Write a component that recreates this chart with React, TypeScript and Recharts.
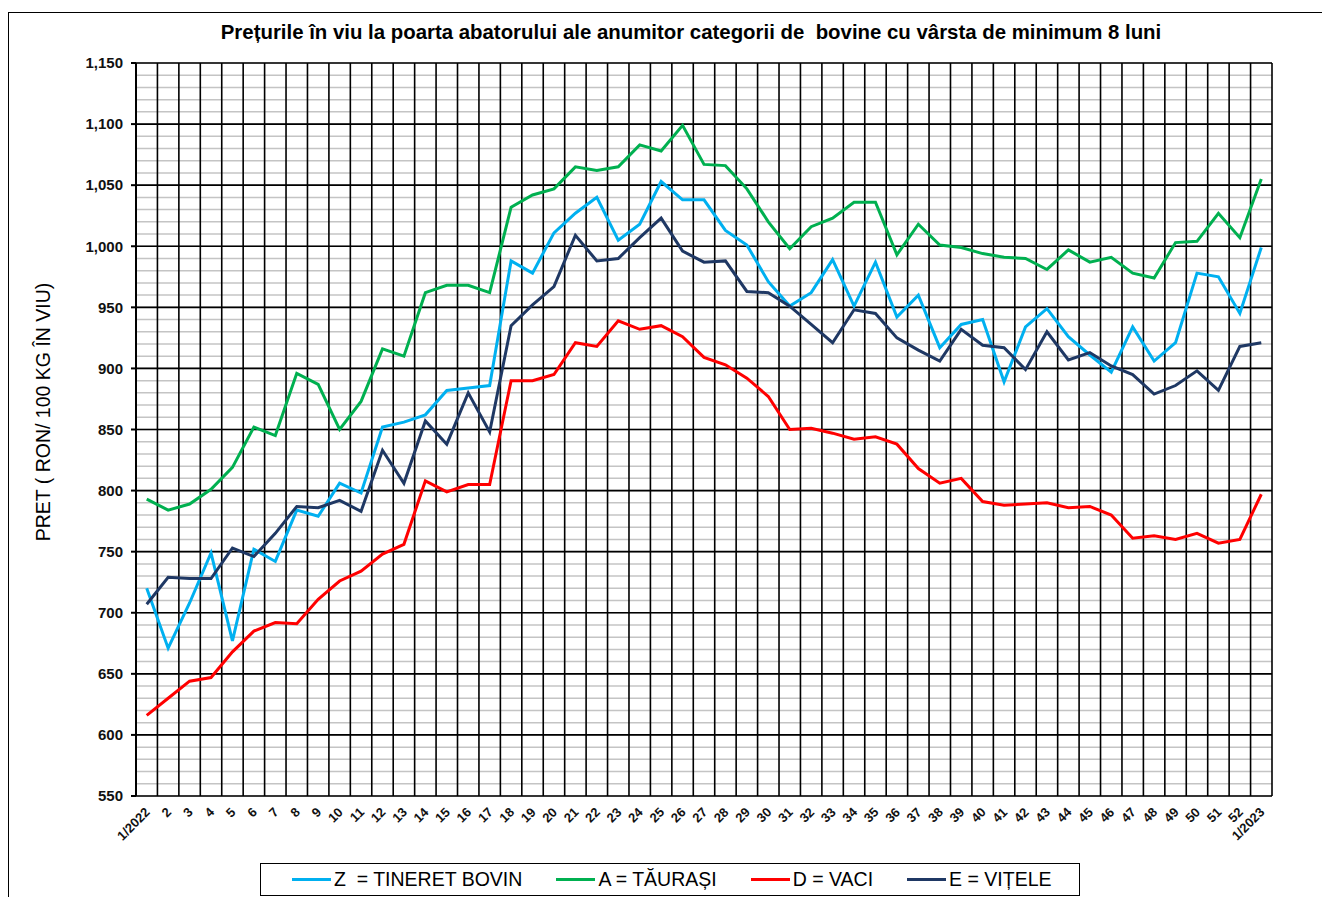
import React from 'react';
import { LineChart, Line, XAxis, YAxis, CartesianGrid } from 'recharts';

// saptamanile 1/2022 ... 1/2023
const WEEKS = [
  '1/2022', '2', '3', '4', '5', '6', '7', '8', '9', '10', '11', '12', '13', '14', '15', '16', '17', '18',
  '19', '20', '21', '22', '23', '24', '25', '26', '27', '28', '29', '30', '31', '32', '33', '34', '35',
  '36', '37', '38', '39', '40', '41', '42', '43', '44', '45', '46', '47', '48', '49', '50', '51', '52', '1/2023',
];

// Z = tineret bovin
const TINERET = [
  720, 671, 708, 749, 677, 752, 742, 784, 779, 806, 798, 852, 856, 862, 882, 884, 886, 988,
  978, 1011, 1027, 1040, 1005, 1018, 1053, 1038, 1038, 1013, 1001, 971, 951, 962, 989, 951, 987,
  942, 960, 917, 936, 940, 889, 934, 949, 926, 911, 897, 934, 906, 921, 978, 975, 945, 999,
];

// A = taurasi
const TAURASI = [
  793, 784, 789, 801, 819, 852, 845, 896, 887, 850, 873, 916, 910, 962, 968, 968, 962, 1032,
  1042, 1047, 1065, 1062, 1065, 1083, 1078, 1099, 1067, 1066, 1047, 1020, 998, 1016, 1023, 1036, 1036,
  993, 1018, 1001, 999, 994, 991, 990, 981, 997, 987, 991, 978, 974, 1003, 1004, 1027, 1007, 1055,
];

// D = vaci
const VACI = [
  616, 630, 644, 647, 668, 685, 692, 691, 711, 726, 734, 748, 756, 808, 799, 805, 805, 890,
  890, 895, 921, 918, 939, 932, 935, 926, 909, 903, 892, 877, 850, 851, 847, 842, 844,
  838, 818, 806, 810, 791, 788, 789, 790, 786, 787, 780, 761, 763, 760, 765, 757, 760, 797,
];

// E = vitele
const VITELE = [
  707, 729, 728, 728, 753, 746, 765, 787, 786, 792, 783, 833, 806, 857, 838, 880, 848, 935,
  952, 967, 1009, 988, 990, 1007, 1023, 996, 987, 988, 963, 962, 951, 936, 921, 948, 945,
  925, 915, 906, 932, 919, 917, 899, 930, 907, 913, 902, 895, 879, 886, 898, 882, 918, 921,
];

const Y_TICKS = [550, 600, 650, 700, 750, 800, 850, 900, 950, 1000, 1050, 1100, 1150];
const Y_MINOR = Array.from({ length: 61 }, (_, i) => 550 + i * 10);
const BOUNDS = Array.from({ length: WEEKS.length + 1 }, (_, i) => i);

const SERIES = [
  { key: 'z', name: 'Z  = TINERET BOVIN', color: '#00B0F0' },
  { key: 'a', name: 'A = TĂURAȘI', color: '#00B050' },
  { key: 'd', name: 'D = VACI', color: '#FF0000' },
  { key: 'e', name: 'E = VIȚELE', color: '#1F3864' },
];

const data = WEEKS.map((week, i) => ({
  week,
  pos: i + 0.5,
  z: TINERET[i],
  a: TAURASI[i],
  d: VACI[i],
  e: VITELE[i],
}));

const FONT = '"Liberation Sans", Arial, sans-serif';
const BAND = 1136 / WEEKS.length;

const EmptyTick = () => <g />;

const WeekTick = (props: any) => {
  const { x, y, payload } = props;
  const ax = x + 4;
  const ay = y + 15;
  return (
    <text x={ax} y={ay} transform={`rotate(-45 ${ax} ${ay})`} textAnchor="end" fontSize={13} fontWeight="bold" fontFamily={FONT} fill="#111">
      {payload.value}
    </text>
  );
};

const App: React.FC = () => {
  return (
    <div style={{ position: 'relative', width: 1322, height: 897, overflow: 'hidden', background: '#fff', fontFamily: FONT }}>
      <style>{'body{margin:0}'}</style>
      <div style={{ position: 'absolute', left: 8, top: 12, right: -10, bottom: -10, borderLeft: '1.5px solid #000', borderTop: '1.5px solid #000' }} />

      <div style={{ position: 'absolute', left: 0, top: 0 }}>
        <LineChart width={1322} height={897} data={data} margin={{ top: 63, right: 50, bottom: 41, left: 76 }}>
          <YAxis yAxisId="minor" width={0} domain={[550, 1150]} ticks={Y_MINOR} interval={0} tick={<EmptyTick />} axisLine={false} tickLine={{ stroke: '#666', strokeWidth: 1 }} tickSize={5} />
          <YAxis
            width={60}
            domain={[550, 1150]}
            ticks={Y_TICKS}
            interval={0}
            tickFormatter={(v: number) => v.toLocaleString('en-US')}
            tick={{ fontSize: 15, fontWeight: 'bold', fill: '#111', fontFamily: FONT }}
            axisLine={{ stroke: '#000', strokeWidth: 2 }}
            tickLine={{ stroke: '#000', strokeWidth: 2 }}
            tickSize={5}
            tickMargin={8}
          />
          <XAxis type="number" dataKey="pos" domain={[0, WEEKS.length]} ticks={BOUNDS} interval={0} height={0} tick={<EmptyTick />} axisLine={{ stroke: '#000', strokeWidth: 3.5 }} tickLine={{ stroke: '#000', strokeWidth: 3 }} tickSize={3} />
          <XAxis xAxisId="cat" dataKey="week" interval={0} height={60} padding={{ left: BAND / 2, right: BAND / 2 }} axisLine={false} tickLine={false} tickSize={0} tick={<WeekTick />} />
          <CartesianGrid horizontalValues={Y_MINOR} vertical={false} stroke="#c4c4c4" strokeWidth={1.5} />
          <CartesianGrid stroke="#000" strokeWidth={1.6} />
          {SERIES.map((s) => (
            <Line key={s.key} xAxisId="cat" dataKey={s.key} name={s.name} stroke={s.color} strokeWidth={3} dot={false} activeDot={false} type="linear" isAnimationActive={false} />
          ))}
        </LineChart>
      </div>

      <div style={{ position: 'absolute', left: 200, width: 982, top: 21, textAlign: 'center', fontSize: 20.4, fontWeight: 'bold', whiteSpace: 'pre', color: '#000' }}>
        Prețurile în viu la poarta abatorului ale anumitor categorii de  bovine cu vârsta de minimum 8 luni
      </div>

      <div style={{ position: 'absolute', left: 43, top: 412, width: 0, height: 0 }}>
        <div style={{ position: 'absolute', transform: 'translate(-50%, -50%) rotate(-90deg)', whiteSpace: 'nowrap', fontSize: 19.5, color: '#000' }}>
          PRET ( RON/ 100 KG ÎN VIU)
        </div>
      </div>

      <div style={{ position: 'absolute', left: 260, top: 863, width: 820, height: 33, boxSizing: 'border-box', border: '1.5px solid #000', display: 'flex', alignItems: 'center', paddingLeft: 31, gap: 34 }}>
        {SERIES.map((s) => (
          <div key={s.key} style={{ display: 'flex', alignItems: 'center' }}>
            <span style={{ display: 'inline-block', width: 39, height: 3, background: s.color, marginRight: 3 }} />
            <span style={{ fontSize: 19.5, whiteSpace: 'pre', color: '#000' }}>{s.name}</span>
          </div>
        ))}
      </div>
    </div>
  );
};

export default App;
